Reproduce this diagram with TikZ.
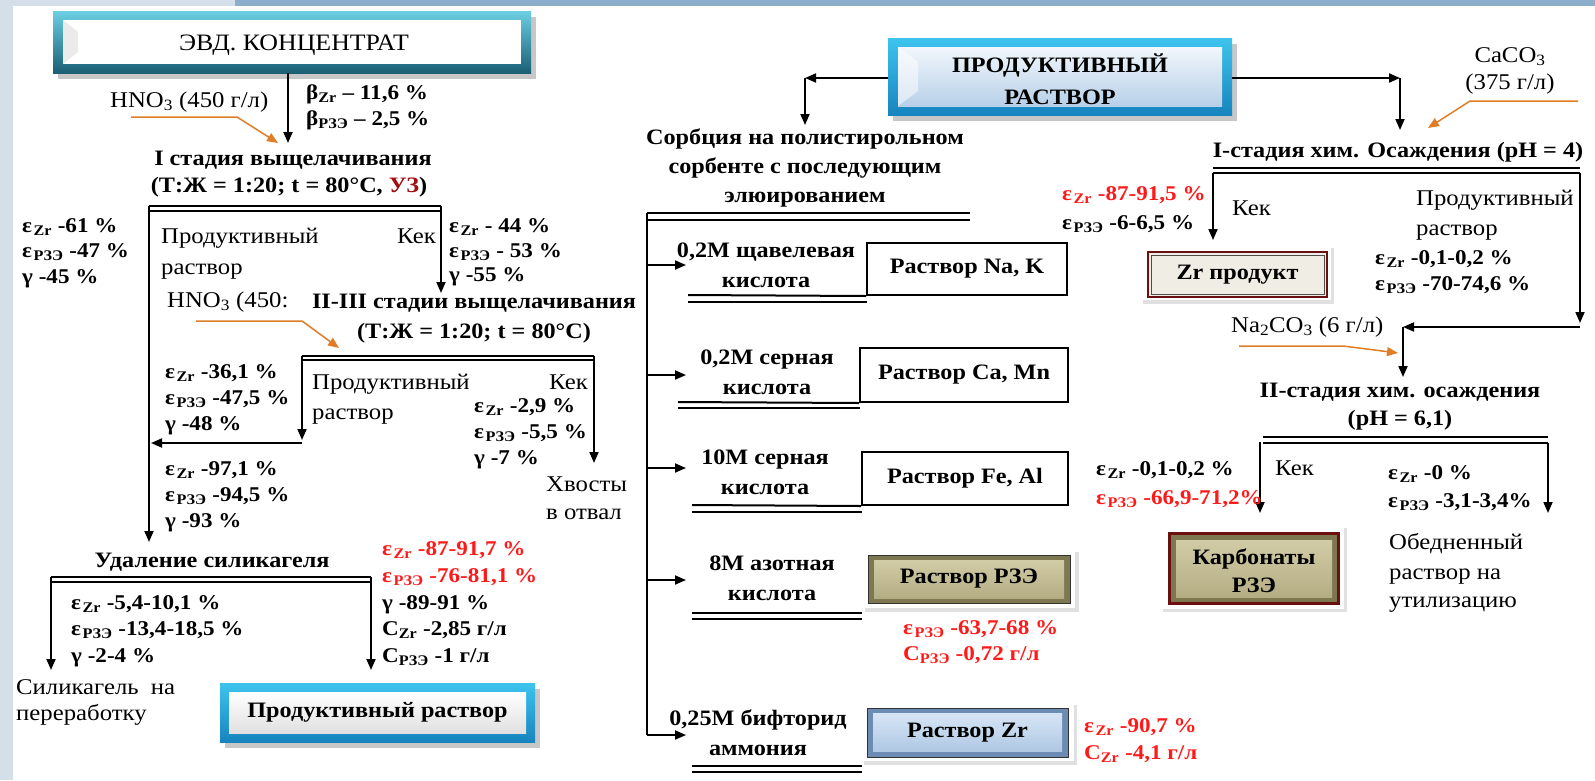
\documentclass[tikz,border=0pt]{standalone}
\usepackage{fontspec}
\setmainfont{Liberation Serif}[FakeStretch=1.1]
\usetikzlibrary{arrows.meta}
\definecolor{bgl}{HTML}{D5DFEA}
\definecolor{bgd}{HTML}{8BAECC}
\definecolor{org}{HTML}{E07E28}
\definecolor{redt}{HTML}{FF1A1A}
\definecolor{uzc}{HTML}{A01010}
\definecolor{evdA}{HTML}{6CCFE3}
\definecolor{evdB}{HTML}{1A5F74}
\definecolor{prA}{HTML}{3DC4EE}
\definecolor{prB}{HTML}{1784BE}
\definecolor{prinA}{HTML}{F2F7FC}
\definecolor{prinB}{HTML}{B7D0E8}
\definecolor{olA}{HTML}{D2CCA6}
\definecolor{olB}{HTML}{B4AD84}
\definecolor{olF}{HTML}{7E7850}
\definecolor{zrA}{HTML}{D6E5F5}
\definecolor{zrB}{HTML}{B0C8E4}
\definecolor{zrF}{HTML}{6D8CB3}
\definecolor{crm}{HTML}{F0EDE4}
\definecolor{dred}{HTML}{6B1010}
\newcommand{\eZr}{ε\hspace{1.5pt}\textsubscript{Zr}}
\newcommand{\eRe}{ε\hspace{1.5pt}\textsubscript{РЗЭ}}
\newcommand{\bZr}{β\textsubscript{Zr}}
\newcommand{\bRe}{β\textsubscript{РЗЭ}}
\newcommand{\cZr}{C\textsubscript{Zr}}
\newcommand{\cRe}{C\textsubscript{РЗЭ}}
\begin{document}
\begin{tikzpicture}[x=1pt,y=-1pt,
  every node/.style={inner sep=0pt, font=\fontsize{22.5}{26}\selectfont},
  tb/.style={font=\fontsize{22}{26}\selectfont\bfseries},
  tv/.style={font=\fontsize{21}{25}\selectfont\bfseries},
  rt/.style={text=redt},
  ln/.style={line width=1.8pt},
  arr/.style={line width=1.8pt,-{Triangle[length=11pt,width=9pt]}},
  oarr/.style={draw=org,line width=1.5pt,-{Triangle[length=11pt,width=9pt]}},
  dl/.style={line width=2pt},
  bx/.style={draw,line width=2pt,tb}]
\useasboundingbox (0,0) rectangle (1595,780);
% background
\fill[white] (0,0) rectangle (1595,780);
\fill[bgl] (0,0) rectangle (13,780);
\fill[bgl] (0,0) rectangle (235,6);
\fill[bgd] (235,0) rectangle (1595,6);

% ================= LEFT =================
% EVD box
\fill[black!22] (58,17) rectangle (536,79);
\shade[top color=evdA, bottom color=evdB] (53,11) rectangle (531,73);
\fill[white] (63,20) rectangle (521,64);
\fill[black!8] (63,20) -- (78,32) -- (78,52) -- (63,64) -- cycle;
\node[minimum width=478pt, minimum height=62pt] (evd) at (292,42) {};
\node[anchor=base,font=\fontsize{23.5}{26}\selectfont] (evdt) at (294,50) {ЭВД. КОНЦЕНТРАТ};

\coordinate (st1) at (288,143);
\draw[arr] (evd.south -| st1) -- (st1);
\node[tv,anchor=base west] (b1) at (306,99) {\bZr\ – 11,6 \%};
\node[tv,anchor=base west] (b2) at (306,125) {\bRe\ – 2,5 \%};
\node[anchor=base west] (h1) at (110,107) {HNO\textsubscript{3} (450 г/л)};
\coordinate (h1a) at (131,117);
\coordinate (h1b) at (237,117);
\coordinate (h1c) at (278,143);
\draw[oarr] (h1a) -- (h1b) -- (h1c);

\node[tb,anchor=base] (s1) at (293,165) {I стадия выщелачивания};
\node[tb,anchor=base] (s1b) at (289,192) {(Т:Ж = 1:20; t = 80°C, \textcolor{uzc}{УЗ})};
\coordinate (d1l) at (149,206); \coordinate (d1r) at (441,206);
\coordinate (d1l2) at (149,211); \coordinate (d1r2) at (441,211);
\draw[dl] (d1l) -- (d1r); \draw[dl] (d1l2) -- (d1r2);
\coordinate (ud) at (149,542);
\draw[arr] (d1l) -- (ud);
\coordinate (s2in) at (441,293);
\draw[arr] (d1r) -- (s2in);
\node[anchor=base west] (p1) at (161,243) {Продуктивный};
\node[anchor=base west] (p1b) at (161,274) {раствор};
\node[anchor=base east] (k1) at (436,243) {Кек};
\node[tv,anchor=base west] (e1a) at (22,232) {\eZr\ -61 \%};
\node[tv,anchor=base west] (e1b) at (22,257) {\eRe\ -47 \%};
\node[tv,anchor=base west] (e1c) at (22,283) {γ -45 \%};
\node[tv,anchor=base west] (e2a) at (449,232) {\eZr\ - 44 \%};
\node[tv,anchor=base west] (e2b) at (449,257) {\eRe\ - 53 \%};
\node[tv,anchor=base west] (e2c) at (449,281) {γ -55 \%};

% II-III stage
\node[anchor=base west] (h2) at (167,307) {HNO\textsubscript{3} (450:};
\coordinate (h2a) at (196,321);
\coordinate (h2b) at (302,321);
\coordinate (h2c) at (339,348);
\draw[oarr] (h2a) -- (h2b) -- (h2c);
\node[tb,anchor=base] (s2) at (474,308) {II-III стадии выщелачивания};
\node[tb,anchor=base] (s2b) at (474,338) {(Т:Ж = 1:20; t = 80°C)};
\coordinate (d2l) at (302,356); \coordinate (d2r) at (594,356);
\coordinate (d2l2) at (302,360); \coordinate (d2r2) at (594,360);
\draw[dl] (d2l) -- (d2r); \draw[dl] (d2l2) -- (d2r2);
\coordinate (j2) at (302,440);
\draw[arr] (d2l) -- (j2);
\coordinate (j2h) at (302,443);
\coordinate (j2e) at (151,443);
\draw[arr] (j2h) -- (j2e);
\coordinate (tl) at (594,463);
\draw[arr] (d2r) -- (tl);
\node[anchor=base west] (p2) at (312,389) {Продуктивный};
\node[anchor=base west] (p2b) at (312,419) {раствор};
\node[anchor=base east] (k2) at (588,389) {Кек};
\node[tv,anchor=base west] (e3a) at (165,378) {\eZr\ -36,1 \%};
\node[tv,anchor=base west] (e3b) at (165,404) {\eRe\ -47,5 \%};
\node[tv,anchor=base west] (e3c) at (165,430) {γ -48 \%};
\node[tv,anchor=base west] (e4a) at (474,412) {\eZr\ -2,9 \%};
\node[tv,anchor=base west] (e4b) at (474,438) {\eRe\ -5,5 \%};
\node[tv,anchor=base west] (e4c) at (474,464) {γ -7 \%};
\node[anchor=base west] (x1) at (546,491) {Хвосты};
\node[anchor=base west] (x2) at (546,519) {в отвал};
\node[tv,anchor=base west] (e5a) at (165,475) {\eZr\ -97,1 \%};
\node[tv,anchor=base west] (e5b) at (165,501) {\eRe\ -94,5 \%};
\node[tv,anchor=base west] (e5c) at (165,527) {γ -93 \%};

% silica removal
\node[tb,anchor=base] (s3) at (212,567) {Удаление силикагеля};
\coordinate (d3l) at (51,577); \coordinate (d3r) at (371,577);
\coordinate (d3l2) at (51,582); \coordinate (d3r2) at (371,582);
\draw[dl] (d3l) -- (d3r); \draw[dl] (d3l2) -- (d3r2);
\coordinate (sg) at (51,670); \coordinate (pr) at (371,670);
\draw[arr] (d3l) -- (sg);
\draw[arr] (d3r) -- (pr);
\node[tv,anchor=base west] (e6a) at (71,609) {\eZr\ -5,4-10,1 \%};
\node[tv,anchor=base west] (e6b) at (71,635) {\eRe\ -13,4-18,5 \%};
\node[tv,anchor=base west] (e6c) at (71,662) {γ -2-4 \%};
\node[tv,rt,anchor=base west] (e7a) at (382,555) {\eZr\ -87-91,7 \%};
\node[tv,rt,anchor=base west] (e7b) at (382,582) {\eRe\ -76-81,1 \%};
\node[tv,anchor=base west] (e7c) at (382,609) {γ -89-91 \%};
\node[tv,anchor=base west] (e7d) at (382,635) {\cZr\ -2,85 г/л};
\node[tv,anchor=base west] (e7e) at (382,662) {\cRe\ -1 г/л};
\node[anchor=base west] (sl1) at (16,694) {Силикагель\ \ на};
\node[anchor=base west] (sl2) at (16,720) {переработку};
% product solution box
\fill[black!22] (225,689) rectangle (540,748);
\shade[top color=prA, bottom color=prB] (220,683) rectangle (535,742);
\shade[top color=white, bottom color=black!12] (229,692) rectangle (526,733);
\node[tb, minimum width=315pt, minimum height=59pt] (pbox) at (377.5,712.5) {Продуктивный раствор};

% ================= MIDDLE =================
\fill[black!22] (893,44) rectangle (1237,121);
\shade[top color=prA, bottom color=prB] (888,38) rectangle (1232,115);
\shade[top color=prinA, bottom color=prinB] (898,47) rectangle (1222,106);
\fill[white,opacity=0.5] (898,47) -- (918,62) -- (918,91) -- (898,106) -- cycle;
\node[minimum width=344pt, minimum height=77pt] (prod) at (1060,76.5) {};
\node[tb,anchor=base] (prt1) at (1060,72) {ПРОДУКТИВНЫЙ};
\node[tb,anchor=base] (prt2) at (1060,104) {РАСТВОР};

\coordinate (cl) at (805,78);
\coordinate (cld) at (805,125);
\draw[arr] (prod.west |- cl) -- (cl);
\draw[arr] (cl) -- (cld);
\node[tb,anchor=base] (so1) at (805,144) {Сорбция на полистирольном};
\node[tb,anchor=base] (so2) at (805,173) {сорбенте с последующим};
\node[tb,anchor=base] (so3) at (805,202) {элюированием};
\coordinate (mv0) at (647,213); \coordinate (mr0) at (970,213);
\coordinate (mv02) at (647,220); \coordinate (mr02) at (970,220);
\draw[dl] (mv0) -- (mr0); \draw[dl] (mv02) -- (mr02);
\coordinate (mv1) at (647,735);
\draw[ln] (mv0) -- (mv1);
% branch arrows
\coordinate (a1s) at (647,265); \coordinate (a1e) at (686,265);
\coordinate (a2s) at (647,375); \coordinate (a2e) at (686,375);
\coordinate (a3s) at (647,468); \coordinate (a3e) at (686,468);
\coordinate (a4s) at (647,580); \coordinate (a4e) at (686,580);
\coordinate (a5e) at (686,735);
\draw[arr] (a1s) -- (a1e);
\draw[arr] (a2s) -- (a2e);
\draw[arr] (a3s) -- (a3e);
\draw[arr] (a4s) -- (a4e);
\draw[arr] (mv1) -- (a5e);

% 1 oxalic
\node[tb,anchor=base] (q1) at (766,257) {0,2M щавелевая};
\node[tb,anchor=base] (q1b) at (766,287) {кислота};
\node[bx, minimum width=200pt, minimum height=52pt] (nak) at (967,269) {Раствор Na, K};
\coordinate (u1a) at (688,295); \coordinate (u1b) at (688,302); \coordinate (u1c) at (867,302);
\draw[dl] (u1a) -- (nak.south west); \draw[dl] (u1b) -- (u1c);
% 2 sulfuric
\node[tb,anchor=base] (q2) at (767,364) {0,2M серная};
\node[tb,anchor=base] (q2b) at (767,394) {кислота};
\node[bx, minimum width=208pt, minimum height=54pt] (camn) at (964,375) {Раствор Ca, Mn};
\coordinate (u2a) at (678,402); \coordinate (u2b) at (678,408); \coordinate (u2c) at (860,408);
\draw[dl] (u2a) -- (camn.south west); \draw[dl] (u2b) -- (u2c);
% 3 sulfuric 10M
\node[tb,anchor=base] (q3) at (765,464) {10M серная};
\node[tb,anchor=base] (q3b) at (765,494) {кислота};
\node[bx, minimum width=206pt, minimum height=53pt] (feal) at (965,478.5) {Раствор Fe, Al};
\coordinate (u3a) at (692,505); \coordinate (u3b) at (692,512); \coordinate (u3c) at (862,512);
\draw[dl] (u3a) -- (feal.south west); \draw[dl] (u3b) -- (u3c);
% 4 nitric
\node[tb,anchor=base] (q4) at (772,570) {8M азотная};
\node[tb,anchor=base] (q4b) at (772,600) {кислота};
\fill[black!12] (865,552) rectangle (1079,612);
\fill[white] (862,548) rectangle (1075,608);
\fill[olF] (868,555) rectangle (1070,603);
\shade[top color=olA, bottom color=olB] (874,560) rectangle (1064,598);
\draw[black!80, line width=0.8pt] (868,555) rectangle (1070,603);
\node[tb, minimum width=202pt, minimum height=48pt] (rze) at (969,579) {Раствор РЗЭ};
\coordinate (u4a) at (692,613); \coordinate (u4b) at (692,619);
\coordinate (u4c) at (862,613); \coordinate (u4d) at (862,619);
\draw[dl] (u4a) -- (u4c); \draw[dl] (u4b) -- (u4d);
\node[tv,rt,anchor=base west] (r4a) at (903,634) {\eRe\ -63,7-68 \%};
\node[tv,rt,anchor=base west] (r4b) at (903,660) {\cRe\ -0,72 г/л};
% 5 bifluoride
\node[tb,anchor=base] (q5) at (758,725) {0,25M бифторид};
\node[tb,anchor=base] (q5b) at (758,755) {аммония};
\fill[black!12] (864,705) rectangle (1077,765);
\fill[white] (861,701) rectangle (1074,761);
\fill[zrF] (867,708) rectangle (1068,757);
\shade[top color=zrA, bottom color=zrB] (873,713) rectangle (1062,751);
\draw[black!80, line width=0.8pt] (867,708) rectangle (1068,757);
\node[tb, minimum width=201pt, minimum height=49pt] (rzr) at (967.5,732.5) {Раствор Zr};
\coordinate (u5a) at (692,766); \coordinate (u5b) at (692,772);
\coordinate (u5c) at (862,766); \coordinate (u5d) at (862,772);
\draw[dl] (u5a) -- (u5c); \draw[dl] (u5b) -- (u5d);
\node[tv,rt,anchor=base west] (r5a) at (1084,732) {\eZr\ -90,7 \%};
\node[tv,rt,anchor=base west] (r5b) at (1084,759) {\cZr\ -4,1 г/л};

% ================= RIGHT =================
\coordinate (cr) at (1400,78);
\coordinate (crd) at (1400,130);
\draw[arr] (prod.east |- cr) -- (cr);
\draw[arr] (cr) -- (crd);
\node[anchor=base] (ca1) at (1510,62) {CaCO\textsubscript{3}};
\node[anchor=base] (ca2) at (1510,89) {(375 г/л)};
\coordinate (o1a) at (1578,101); \coordinate (o1b) at (1470,101); \coordinate (o1c) at (1428,128);
\draw[oarr] (o1a) -- (o1b) -- (o1c);
\node[tb,anchor=base] (c1) at (1398,157) {I-стадия хим. Осаждения (pH = 4)};
\coordinate (d4l) at (1213,168); \coordinate (d4r) at (1580,168);
\coordinate (d4l2) at (1213,173); \coordinate (d4r2) at (1580,173);
\draw[dl] (d4l) -- (d4r); \draw[dl] (d4l2) -- (d4r2);
\coordinate (zk) at (1213,240);
\draw[arr] (d4l2) -- (zk);
\coordinate (rv) at (1580,323);
\draw[arr] (d4r2) -- (rv);
\coordinate (rvh) at (1580,327); \coordinate (rvc) at (1403,327); \coordinate (rvd) at (1403,377);
\draw[arr] (rvh) -- (rvc);
\draw[arr] (rvc) -- (rvd);
\node[anchor=base west] (k4) at (1232,215) {Кек};
\node[anchor=base west] (p4) at (1416,205) {Продуктивный};
\node[anchor=base west] (p4b) at (1416,235) {раствор};
\node[tv,anchor=base west] (e8a) at (1375,264) {\eZr\ -0,1-0,2 \%};
\node[tv,anchor=base west] (e8b) at (1375,290) {\eRe\ -70-74,6 \%};
\node[tv,rt,anchor=base west] (e9a) at (1062,200) {\eZr\ -87-91,5 \%};
\node[tv,anchor=base west] (e9b) at (1062,229) {\eRe\ -6-6,5 \%};
% Zr product box
\fill[black!12] (1143,248) rectangle (1334,304);
\fill[white] (1140,244) rectangle (1331,300);
\fill[crm] (1148,252) rectangle (1327,297);
\draw[dred, line width=2pt] (1148,252) rectangle (1327,297);
\draw[black!70, line width=0.8pt] (1151,255) rectangle (1324,294);
\node[tb, minimum width=179pt, minimum height=45pt] (zrp) at (1237.5,274.5) {Zr продукт};
% II stage
\node[anchor=base west] (na) at (1231,332) {Na\textsubscript{2}CO\textsubscript{3} (6 г/л)};
\coordinate (o2a) at (1239,346); \coordinate (o2b) at (1343,346); \coordinate (o2c) at (1398,353);
\draw[oarr] (o2a) -- (o2b) -- (o2c);
\node[tb,anchor=base] (c2) at (1400,397) {II-стадия хим. осаждения};
\node[tb,anchor=base] (c2b) at (1400,425) {(pH = 6,1)};
\coordinate (d5l) at (1263,437); \coordinate (d5r) at (1548,437);
\coordinate (d5l2) at (1263,443); \coordinate (d5r2) at (1548,443);
\draw[dl] (d5l) -- (d5r); \draw[dl] (d5l2) -- (d5r2);
\coordinate (kl) at (1260,442); \coordinate (kle) at (1260,513);
\coordinate (rre) at (1548,513);
\draw[arr] (kl) -- (kle);
\draw[arr] (d5r2) -- (rre);
\node[anchor=base west] (k5) at (1275,475) {Кек};
\node[tv,anchor=base west] (e10a) at (1096,475) {\eZr\ -0,1-0,2 \%};
\node[tv,rt,anchor=base west] (e10b) at (1096,504) {\eRe\ -66,9-71,2\%};
\node[tv,anchor=base west] (e11a) at (1388,479) {\eZr\ -0 \%};
\node[tv,anchor=base west] (e11b) at (1388,507) {\eRe\ -3,1-3,4\%};
% carbonates box
\fill[black!12] (1163,528) rectangle (1347,612);
\fill[white] (1160,524) rectangle (1344,609);
\fill[dred] (1168,532) rectangle (1340,605);
\fill[olF] (1171,535) rectangle (1337,602);
\shade[top color=olA, bottom color=olB] (1176,540) rectangle (1332,597);
\node[minimum width=172pt, minimum height=73pt] (carb) at (1254,568.5) {};
\node[tb,anchor=base] (carb1) at (1254,564) {Карбонаты};
\node[tb,anchor=base] (carb2) at (1254,592) {РЗЭ};
\node[anchor=base west] (ob1) at (1389,549) {Обедненный};
\node[anchor=base west] (ob2) at (1389,579) {раствор на};
\node[anchor=base west] (ob3) at (1389,607) {утилизацию};
\end{tikzpicture}
\end{document}
